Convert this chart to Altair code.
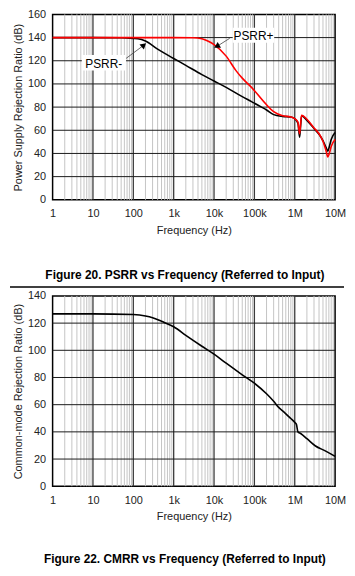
import altair as alt
import pandas as pd

# ---------------- data ----------------
decade_values = [1, 10, 100, 1000, 10000, 100000, 1000000, 10000000]
decade_labels = ["1", "10", "100", "1k", "10k", "100k", "1M", "10M"]
minor_mult = [2, 3, 4, 5, 6, 7, 8, 9]

psrr_minus_freq = [1, 10, 50, 100, 130, 200, 400, 1000, 2000, 5000, 10000, 20000, 50000,
                   85000, 150000, 200000, 300000, 500000, 800000, 1000000, 1200000, 1320000,
                   1400000, 1480000, 2000000, 3000000, 4000000, 5000000, 6000000, 6600000,
                   7200000, 8000000, 10000000]
psrr_minus_db = [140, 140, 139.8, 139.3, 139, 137, 130, 122, 116, 108, 102.5, 97, 89,
                 84.7, 80, 77.5, 73.5, 72, 71.5, 70, 66, 54, 64, 72.5, 68.5, 61.5, 56.5, 51,
                 45, 42, 46, 52, 58]

psrr_plus_freq = [1, 100, 1000, 3000, 5000, 7000, 10000, 20000, 35000, 50000, 85000,
                  200000, 300000, 500000, 800000, 1000000, 1200000, 1320000, 1400000,
                  1480000, 2000000, 3000000, 4000000, 5000000, 6000000, 6600000, 7200000,
                  8000000, 10000000]
psrr_plus_db = [140, 140, 140, 139.8, 139, 137, 134, 124, 111.5, 105, 97, 82, 76, 72.5,
                71.5, 70, 67, 57, 66, 73, 69.5, 62, 57, 50.5, 42, 37, 40, 46, 52]

cmrr_freq = [1, 10, 100, 200, 300, 500, 1000, 2000, 5000, 10000, 20000, 50000, 100000,
             200000, 300000, 400000, 500000, 800000, 1000000, 1100000, 1200000, 1400000,
             2000000, 3200000, 5700000, 10000000]
cmrr_db = [126.8, 126.8, 126.3, 125.3, 124, 121.3, 117.3, 111, 103, 97.2, 90.5, 82, 75.8,
           68, 62.5, 58, 55.5, 49.8, 47, 45.5, 40, 38.8, 35, 29.8, 26, 22]

psrr_label_text = ["PSRR+", "PSRR-"]
psrr_label_freq = [95000, 18.5]
psrr_label_db = [141.5, 117.5]
psrr_box_f1 = [29000, 5.3]
psrr_box_f2 = [310000, 66]
psrr_box_db1 = [148.5, 125.0]
psrr_box_db2 = [135.5, 111.5]
arrow_f1 = [24500, 66]
arrow_db1 = [139.4, 122.0]
arrow_f2 = [12300, 175]
arrow_db2 = [132.8, 133.0]
arrow_angle = [240, 49]

caption_top = "Figure 20. PSRR vs Frequency (Referred to Input)"
caption_bottom = "Figure 22. CMRR vs Frequency (Referred to Input)"

FONT = "Liberation Sans"
W = 285
H1 = 187
H2 = 192
LEFT = 43

minor_vals = [m * d for d in decade_values[:-1] for m in minor_mult]
major_vals = decade_values[1:-1]

label_expr = ""
for v, l in zip(decade_values, decade_labels):
    label_expr += f"datum.value == {v} ? '{l}' : "
label_expr += "''"

xscale = alt.Scale(type="log", domain=[1, 10000000], nice=False)
xaxis = alt.Axis(values=decade_values, labelExpr=label_expr, grid=False,
                 ticks=False, domain=False, title="Frequency (Hz)",
                 labelPadding=8, titlePadding=6, labelFlush=False, labelOverlap=False)


def x_enc(field):
    return alt.X(field, type="quantitative", scale=xscale, axis=xaxis)


def make_y(ymax, ytitle):
    yscale = alt.Scale(domain=[0, ymax], nice=False)
    yvals = list(range(0, ymax + 1, 20))
    yaxis = alt.Axis(values=yvals, grid=False, ticks=False, domain=False,
                     title=ytitle, labelPadding=7, titlePadding=4,
                     labelOverlap=False, labelFlush=False)

    def y_enc(field):
        return alt.Y(field, type="quantitative", scale=yscale, axis=yaxis)
    return y_enc, yvals


def build(height, yvals, y_enc, lines_layers, caption, offset, sep=False):
    minor = alt.Chart(pd.DataFrame({"f": minor_vals})).mark_rule(
        color="#c4c4c4", strokeWidth=1).encode(x=x_enc("f"))
    major = alt.Chart(pd.DataFrame({"f": major_vals})).mark_rule(
        color="#3a3a3a", strokeWidth=1.3).encode(x=x_enc("f"))
    hgrid = alt.Chart(pd.DataFrame({"v": yvals[1:-1]})).mark_rule(
        color="#1a1a1a", strokeWidth=1).encode(y=y_enc("v"))
    layers = [minor, major, hgrid] + lines_layers
    if sep:
        layers.append(alt.Chart(pd.DataFrame({"a": [0]})).mark_rule(
            color="black", strokeWidth=1.3).encode(
            x=alt.value(-LEFT), x2=alt.value(W + 9), y=alt.value(-9)))
    return alt.layer(*layers).properties(
        width=W, height=height,
        title=alt.TitleParams(caption, orient="bottom", anchor="middle", frame="group",
                              fontSize=12, fontWeight="bold", font=FONT, color="black",
                              offset=offset, dx=-9))


y_top, yv_top = make_y(160, "Power Supply Rejection Ratio (dB)")
y_bot, yv_bot = make_y(140, "Common-mode Rejection Ratio (dB)")

df_m = pd.DataFrame({"f": psrr_minus_freq, "db": psrr_minus_db})
df_p = pd.DataFrame({"f": psrr_plus_freq, "db": psrr_plus_db})
df_c = pd.DataFrame({"f": cmrr_freq, "db": cmrr_db})

line_m = alt.Chart(df_m).mark_line(color="black", strokeWidth=1.6, interpolate="monotone").encode(
    x=x_enc("f"), y=y_top("db"))
line_p = alt.Chart(df_p).mark_line(color="#ff0000", strokeWidth=1.6, interpolate="monotone").encode(
    x=x_enc("f"), y=y_top("db"))
line_c = alt.Chart(df_c).mark_line(color="black", strokeWidth=1.6, interpolate="monotone").encode(
    x=x_enc("f"), y=y_bot("db"))

ann = pd.DataFrame({"t": psrr_label_text, "f": psrr_label_freq, "db": psrr_label_db,
                    "bf1": psrr_box_f1, "bf2": psrr_box_f2, "bd1": psrr_box_db1,
                    "bd2": psrr_box_db2, "af1": arrow_f1, "ad1": arrow_db1,
                    "af2": arrow_f2, "ad2": arrow_db2, "ang": arrow_angle})

boxes = alt.Chart(ann).mark_rect(color="white", opacity=1).encode(
    x=x_enc("bf1"), x2="bf2", y=y_top("bd1"), y2="bd2")
texts = alt.Chart(ann).mark_text(font=FONT, fontSize=12, color="black").encode(
    x=x_enc("f"), y=y_top("db"), text="t")
arrows = alt.Chart(ann).mark_rule(color="#444", strokeWidth=0.8).encode(
    x=x_enc("af1"), x2="af2", y=y_top("ad1"), y2="ad2")
heads = alt.Chart(ann).mark_point(shape="triangle", filled=True, color="black", size=45,
                                  opacity=1).encode(
    x=x_enc("af2"), y=y_top("ad2"), angle=alt.Angle("ang:Q", scale=None))

top = build(H1, yv_top, y_top, [line_m, line_p, boxes, texts, arrows, heads], caption_top, 35)
bottom = build(H2, yv_bot, y_bot, [line_c], caption_bottom, 32, sep=True)

chart = alt.vconcat(top, bottom, spacing=3).resolve_scale(y="independent").properties(
    padding={"left": 0, "top": -3, "right": 0, "bottom": 0}
).configure_view(stroke="black", strokeWidth=1.5).configure_axis(
    labelFont=FONT, titleFont=FONT, labelFontSize=11, titleFontSize=11,
    labelColor="#222", titleColor="#222", titleFontWeight="normal"
).configure_axisY(labelOverlap=False)

chart.save("out.html", embed_options={"renderer": "svg", "actions": False})
